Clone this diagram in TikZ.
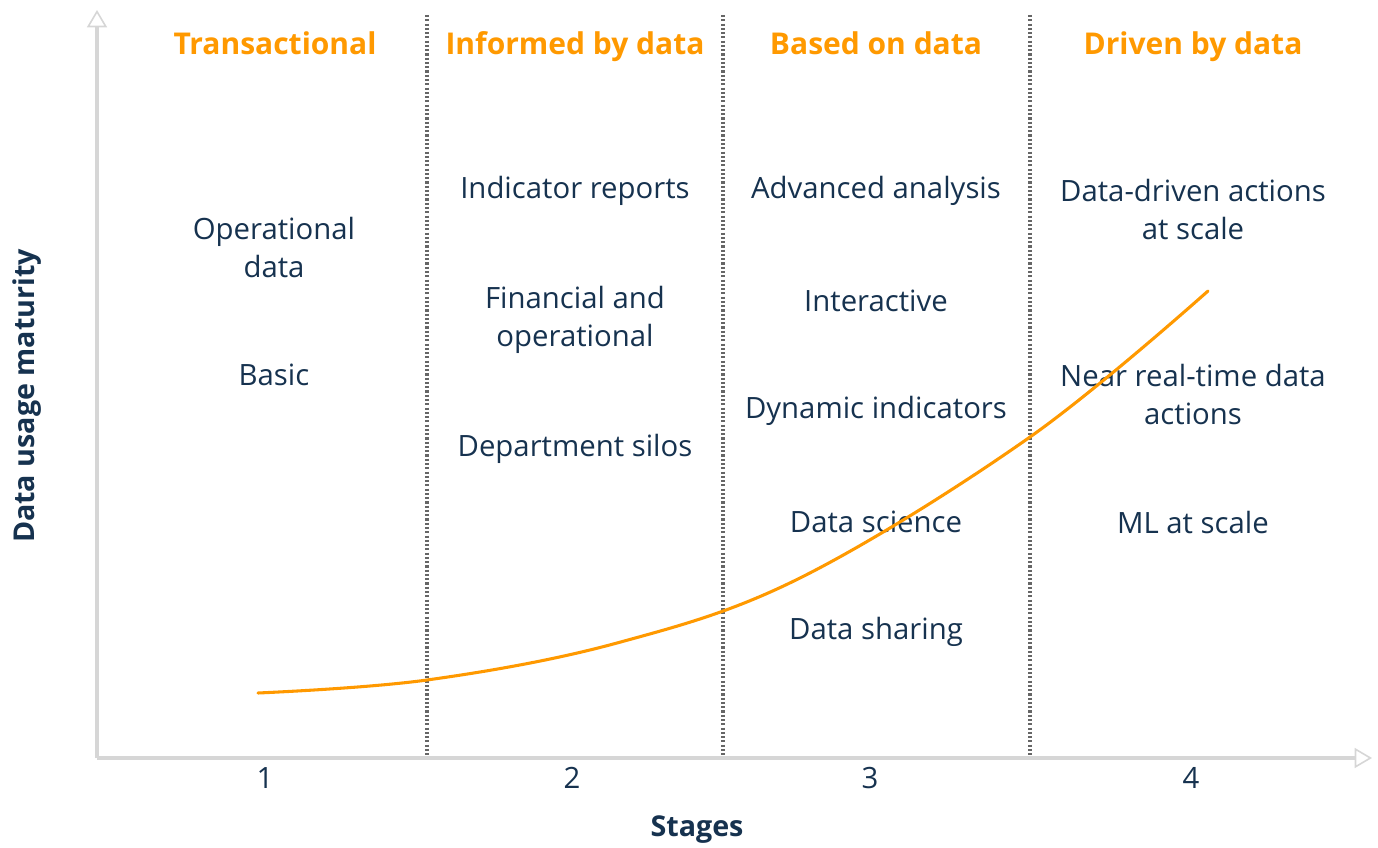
\documentclass[tikz,border=0pt]{standalone}
\usepackage{fontspec}
\setmainfont{Open Sans}
\usetikzlibrary{arrows.meta}
\definecolor{navy}{HTML}{16324F}
\definecolor{amber}{HTML}{FF9900}
\definecolor{axisgray}{HTML}{D6D6D6}
\definecolor{dotgray}{HTML}{666666}
\begin{document}
\begin{tikzpicture}[x=0.75pt,y=-0.75pt,
  body/.style={text=navy, align=center, font=\fontsize{22}{28.5}\selectfont, inner sep=0pt},
  head/.style={text=amber, anchor=base, font=\fontsize{22.5}{28}\selectfont\bfseries, inner sep=0pt},
  axislabel/.style={text=navy, font=\fontsize{21.5}{28}\selectfont\bfseries, inner sep=0pt},
  axisline/.style={draw=axisgray, line width=2.4pt, -{Triangle[open, length=13pt, width=15pt, line width=1.2pt]}},
  divider/.style={draw=dotgray, line width=2.4pt, dash pattern=on 1.6pt off 1.6pt},
  growth/.style={draw=amber, line width=2.3pt, line cap=round}
]
\useasboundingbox (0,0) rectangle (1378,848);
% axes
\coordinate (origin) at (97,758);
\coordinate (ytop) at (97,10);
\coordinate (xend) at (1372,758);
\draw[axisline] (origin) -- (ytop);
\draw[axisline] (origin) -- (xend);
% dividers
\foreach \x/\n in {427/a,723/b,1030/c}{
  \coordinate (d\n top) at (\x,15);
  \coordinate (d\n bot) at (\x,755);
  \draw[divider] (d\n top) -- (d\n bot);
}
% headings
\node[head] (h1) at (275,55) {Transactional};
\node[head] (h2) at (575,55) {Informed by data};
\node[head] (h3) at (876,55) {Based on data};
\node[head] (h4) at (1193,55) {Driven by data};
% column 1
\node[body] (c1a) at (274,248) {Operational\\data};
\node[body] (c1b) at (274,375) {Basic};
% column 2
\node[body] (c2a) at (575,191) {Indicator reports};
\node[body] (c2b) at (575,320) {Financial and\\operational};
\node[body] (c2c) at (575,449) {Department silos};
% column 3
\node[body] (c3a) at (876,191) {Advanced analysis};
\node[body] (c3b) at (876,301) {Interactive};
\node[body] (c3c) at (876,411) {Dynamic indicators};
\node[body] (c3d) at (876,522) {Data science};
\node[body] (c3e) at (876,632) {Data sharing};
% column 4
\node[body] (c4a) at (1193,210) {Data-driven actions\\at scale};
\node[body] (c4b) at (1193,395) {Near real-time data\\actions};
\node[body] (c4c) at (1193,522) {ML at scale};
% growth curve
\draw[growth] plot[smooth, tension=0.6] coordinates {(258,693) (427,680) (617,643) (800,578) (1030,437) (1208,291)};
% ticks
\node[body] (t1) at (265,778) {1};
\node[body] (t2) at (572,778) {2};
\node[body] (t3) at (870,778) {3};
\node[body] (t4) at (1191,778) {4};
% axis titles
\node[axislabel] (xt) at (697,830) {Stages};
\node[axislabel, rotate=90] (yt) at (27,396) {Data usage maturity};
\end{tikzpicture}
\end{document}
